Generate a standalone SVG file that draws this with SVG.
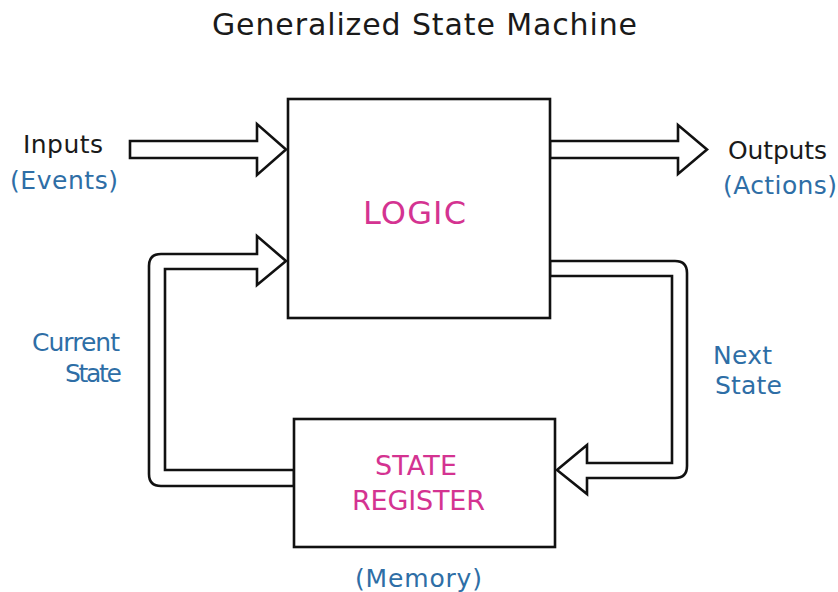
<svg xmlns="http://www.w3.org/2000/svg" width="838" height="592" viewBox="0 0 838 592">
  <style>
    text { font-family: "DejaVu Sans", Verdana, sans-serif; }
    .title { font-size: 30px; fill: #1a1a1a; }
    .io { font-size: 25px; fill: #1a1a1a; }
    .note { font-size: 25px; fill: #2e6ea6; }
    .name { font-size: 27px; fill: #d43391; }
    .big { font-size: 32px; }
    .box { fill: #ffffff; stroke: #111111; stroke-width: 2.6; }
    .arrow { fill: #ffffff; stroke: #111111; stroke-width: 2.6; stroke-linejoin: miter; }
  </style>
  <rect width="838" height="592" fill="#ffffff"/>

  <text class="title" x="212" y="35" textLength="425" lengthAdjust="spacing">Generalized State Machine</text>

  <!-- hollow block arrows -->
  <g id="connectors">
    <!-- inputs into logic -->
    <path class="arrow" d="M130,141 H257 V124 L286,149.5 L257,175 V158 H130 Z"/>
    <!-- logic to outputs -->
    <path class="arrow" d="M550,141 H678 V125 L707,149.5 L678,174 V158 H550 Z"/>
    <!-- current state: register back into logic -->
    <path class="arrow" d="M294,486 H161 Q149,486 149,474 V266 Q149,254 161,254 H257 V236 L286,261 L257,285 V269 H165 V470 H294 Z"/>
    <!-- next state: logic down into register -->
    <path class="arrow" d="M550,261 H675 Q687,261 687,273 V466 Q687,478 675,478 H587 V494 L557,470 L587,445 V463 H672 V276 H550 Z"/>
  </g>

  <g id="logic">
    <rect class="box" x="288" y="99" width="262" height="219"/>
    <text class="name big" x="363" y="224" textLength="103" lengthAdjust="spacing">LOGIC</text>
  </g>

  <g id="state-register">
    <rect class="box" x="294" y="419" width="261" height="128"/>
    <text class="name" x="375" y="475" textLength="82" lengthAdjust="spacing">STATE</text>
    <text class="name" x="352" y="510" textLength="133" lengthAdjust="spacing">REGISTER</text>
  </g>

  <g id="labels">
    <text class="io" x="23" y="153" textLength="80" lengthAdjust="spacing">Inputs</text>
    <text class="note" x="10" y="189" textLength="108" lengthAdjust="spacing">(Events)</text>
    <text class="io" x="728" y="159" textLength="99" lengthAdjust="spacing">Outputs</text>
    <text class="note" x="723" y="194" textLength="114" lengthAdjust="spacing">(Actions)</text>
    <text class="note" x="32" y="351" textLength="88" lengthAdjust="spacing">Current</text>
    <text class="note" x="65" y="382" textLength="57" lengthAdjust="spacing">State</text>
    <text class="note" x="713" y="364" textLength="59" lengthAdjust="spacing">Next</text>
    <text class="note" x="715" y="394" textLength="67" lengthAdjust="spacing">State</text>
    <text class="note" x="355" y="587" textLength="127" lengthAdjust="spacing">(Memory)</text>
  </g>
</svg>
